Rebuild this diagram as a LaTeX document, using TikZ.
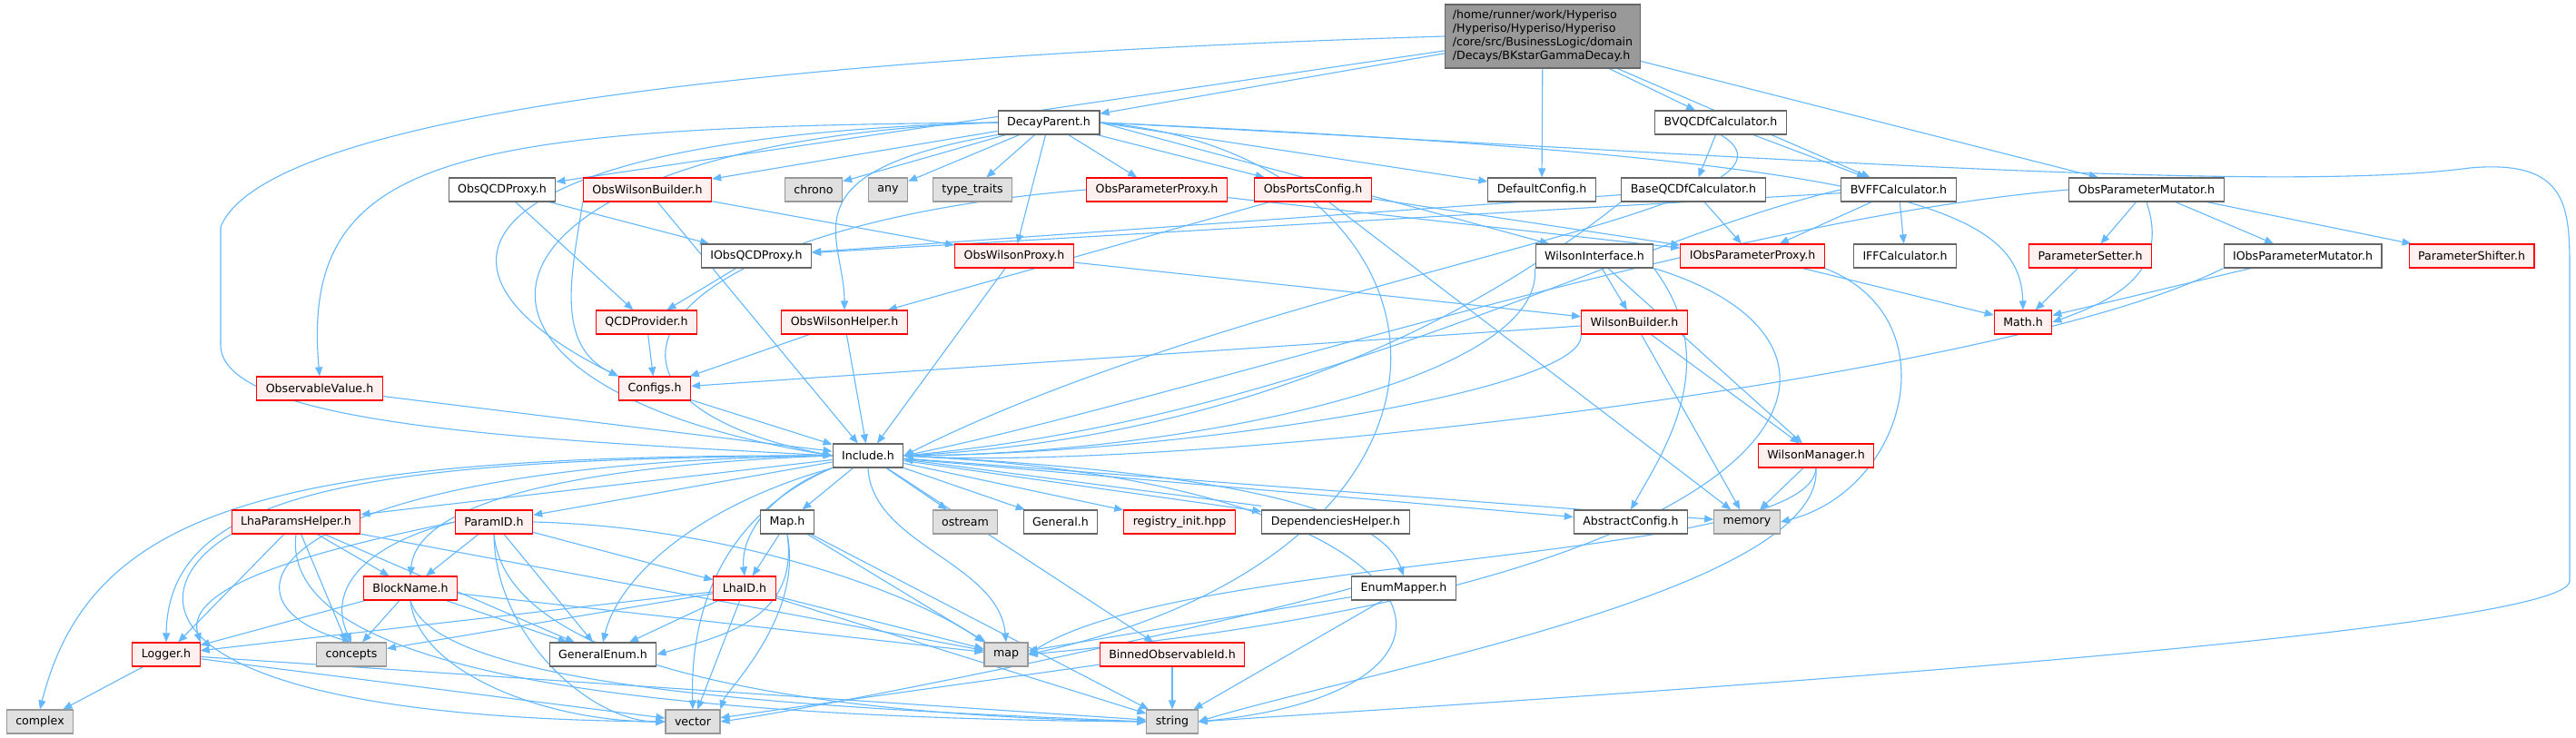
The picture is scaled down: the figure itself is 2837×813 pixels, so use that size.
\documentclass[tikz,border=0pt]{standalone}
\usepackage{fontspec}
\setmainfont{DejaVu Sans}
\usetikzlibrary{arrows.meta, backgrounds}
\definecolor{edgeblue}{HTML}{63B8FF}
\definecolor{boxgray}{HTML}{666666}
\definecolor{sysgray}{HTML}{999999}
\definecolor{sysfill}{HTML}{E0E0E0}
\definecolor{redfill}{HTML}{FFF0F0}
\definecolor{mainfill}{HTML}{999999}

\begin{document}
\begin{tikzpicture}[x=1pt, y=-1pt,
    every node/.style={font=\fontsize{12.6}{15}\selectfont, inner xsep=10pt, inner ysep=0pt, minimum height=26pt, line width=1.1pt},
    hdr/.style={draw=boxgray, fill=white},
    redhdr/.style={draw=red, fill=redfill},
    syshdr/.style={draw=sysgray, fill=sysfill},
    mainhdr/.style={draw=boxgray, fill=mainfill, align=left, inner xsep=8pt, minimum height=70pt},
    dep/.style={draw=edgeblue, line width=1.1pt, -{Triangle[length=10pt,width=8pt]}}]
    \useasboundingbox (0,0) rectangle (2837,813);

    % Top file
    \node[mainhdr] (bkgamma) at (1699,40) {/home/runner/work/Hyperiso\\/Hyperiso/Hyperiso/Hyperiso\\/core/src/BusinessLogic/domain\\/Decays/BKstarGammaDecay.h};

    % Row 1
    \node[hdr] (decay) at (1155,135) {DecayParent.h};
    \node[hdr] (bvqcdf) at (1895,135) {BVQCDfCalculator.h};

    % Row 2
    \node[hdr] (obsqcd) at (553,209) {ObsQCDProxy.h};
    \node[redhdr] (owbuild) at (713,209) {ObsWilsonBuilder.h};
    \node[syshdr] (chrono) at (896,209) {chrono};
    \node[syshdr] (any) at (978,209) {any};
    \node[syshdr] (traits) at (1071,209) {type\_traits};
    \node[redhdr] (opproxy) at (1274,209) {ObsParameterProxy.h};
    \node[redhdr] (ports) at (1446,209) {ObsPortsConfig.h};
    \node[hdr] (defcfg) at (1698,209) {DefaultConfig.h};
    \node[hdr] (baseqcdf) at (1865,209) {BaseQCDfCalculator.h};
    \node[hdr] (bvff) at (2091,209) {BVFFCalculator.h};
    \node[hdr] (opmut) at (2364,209) {ObsParameterMutator.h};

    % Row 3
    \node[hdr] (iobsqcd) at (833,282) {IObsQCDProxy.h};
    \node[redhdr] (owproxy) at (1117,282) {ObsWilsonProxy.h};
    \node[hdr] (wint) at (1756,282) {WilsonInterface.h};
    \node[redhdr] (iopp) at (1930,282) {IObsParameterProxy.h};
    \node[hdr] (iff) at (2098,282) {IFFCalculator.h};
    \node[redhdr] (psetter) at (2302,282) {ParameterSetter.h};
    \node[hdr] (iopmut) at (2536,282) {IObsParameterMutator.h};
    \node[redhdr] (pshift) at (2722,282) {ParameterShifter.h};

    % Row 4
    \node[redhdr] (qcdprov) at (712,355) {QCDProvider.h};
    \node[redhdr] (owhelper) at (930,355) {ObsWilsonHelper.h};
    \node[redhdr] (wbuild) at (1800,355) {WilsonBuilder.h};
    \node[redhdr] (math) at (2228,355) {Math.h};

    % Row 5
    \node[redhdr] (obsval) at (352,428) {ObservableValue.h};
    \node[redhdr] (configs) at (721,428) {Configs.h};

    % Row 6
    \node[hdr] (include) at (956,502) {Include.h};
    \node[redhdr] (wman) at (2000,502) {WilsonManager.h};

    % Row 7
    \node[redhdr] (lhaph) at (326,575) {LhaParamsHelper.h};
    \node[redhdr] (paramid) at (544,575) {ParamID.h};
    \node[hdr] (maph) at (867,575) {Map.h};
    \node[syshdr] (ostream) at (1063,575) {ostream};
    \node[hdr] (general) at (1168,575) {General.h};
    \node[redhdr] (registry) at (1299,575) {registry\_init.hpp};
    \node[hdr] (dephelp) at (1471,575) {DependenciesHelper.h};
    \node[hdr] (abscfg) at (1796,575) {AbstractConfig.h};
    \node[syshdr] (memory) at (1924,575) {memory};

    % Row 8
    \node[redhdr] (blockname) at (452,648) {BlockName.h};
    \node[redhdr] (lhaid) at (820,648) {LhaID.h};
    \node[hdr] (enummap) at (1546,648) {EnumMapper.h};

    % Row 9
    \node[redhdr] (logger) at (183,721) {Logger.h};
    \node[syshdr] (concepts) at (387,721) {concepts};
    \node[hdr] (genenum) at (664,721) {GeneralEnum.h};
    \node[syshdr] (map) at (1108,721) {map};
    \node[redhdr] (binned) at (1291,721) {BinnedObservableId.h};

    % Row 10
    \node[syshdr] (complex) at (44,795) {complex};
    \node[syshdr] (vector) at (763,795) {vector};
    \node[syshdr] (string) at (1291,795) {string};

    \begin{scope}[on background layer]
    \fill[white] (0,0) rectangle (2837,813);

    % Top file includes
    \draw[dep] (bkgamma.west) .. controls (1000,58) and (300,110) .. (243,250) -- (243,380) .. controls (243,470) and (600,485) .. (include.west);
    \draw[dep] (bkgamma) -- (decay);
    \draw[dep] (bkgamma) -- (obsqcd);
    \draw[dep] (bkgamma) -- (defcfg);
    \draw[dep] (bkgamma) -- (bvqcdf);
    \draw[dep] (bkgamma) -- (bvff);
    \draw[dep] (bkgamma) -- (opmut);

    % DecayParent.h
    \draw[dep] (decay.west) .. controls (500,140) and (330,170) .. (obsval.north);
    \draw[dep] (decay.west) .. controls (520,150) and (430,290) .. (configs.north west);
    \draw[dep] (decay.west) .. controls (500,155) and (420,420) .. (include.west);
    \draw[dep] (decay) -- (owbuild);
    \draw[dep] (decay) -- (chrono);
    \draw[dep] (decay) -- (any);
    \draw[dep] (decay) -- (traits);
    \draw[dep] (decay) -- (owproxy);
    \draw[dep] (decay) -- (opproxy);
    \draw[dep] (decay) -- (ports);
    \draw[dep] (decay.east) -- (defcfg);
    \draw[dep] (decay.east) -- (wint);
    \draw[dep] (decay.south west) .. controls (860,190) and (930,260) .. (owhelper.north);
    \draw[dep] (decay.east) .. controls (2100,175) and (2225,230) .. (math.north);
    \draw[dep] (decay.east) .. controls (1620,170) and (1680,600) .. (map.east);
    \draw[dep] (decay.east) .. controls (1900,170) and (2500,215) .. (2720,185) .. controls (2830,175) and (2830,230) .. (2830,300) -- (2830,640) .. controls (2830,700) and (1700,770) .. (string.east);

    % Second row headers
    \draw[dep] (obsqcd) -- (iobsqcd);
    \draw[dep] (obsqcd) -- (qcdprov);
    \draw[dep] (iobsqcd) -- (qcdprov);
    \draw[dep] (qcdprov) -- (configs);
    \draw[dep] (owbuild) -- (owproxy);
    \draw[dep] (owbuild) -- (include);
    \draw[dep] (owbuild.south west) .. controls (630,300) and (610,380) .. (configs.north west);
    \draw[dep] (opproxy) -- (iopp);
    \draw[dep] (opproxy.west) .. controls (700,250) and (600,440) .. (include.west);
    \draw[dep] (ports) -- (owhelper);
    \draw[dep] (ports) -- (iopp);
    \draw[dep] (ports) -- (memory);
    \draw[dep] (owproxy) -- (include);
    \draw[dep] (owproxy) -- (wbuild);
    \draw[dep] (owhelper) -- (configs);
    \draw[dep] (owhelper) -- (include);
    \draw[dep] (configs) -- (include);
    \draw[dep] (obsval) -- (include);

    % Calculators
    \draw[dep] (bvqcdf) -- (baseqcdf);
    \draw[dep] (bvqcdf) -- (bvff);
    \draw[dep] (bvqcdf.south) .. controls (2030,230) and (1400,300) .. (include.east);
    \draw[dep] (baseqcdf) -- (iopp);
    \draw[dep] (baseqcdf) -- (iobsqcd);
    \draw[dep] (baseqcdf.south west) .. controls (1650,330) and (1400,480) .. (include.east);
    \draw[dep] (bvff) -- (iopp);
    \draw[dep] (bvff) -- (iff);
    \draw[dep] (bvff) -- (iobsqcd);
    \draw[dep] (bvff.west) .. controls (1800,260) and (1450,460) .. (include.east);

    % Parameter mutator
    \draw[dep] (opmut) -- (psetter);
    \draw[dep] (opmut) -- (iopmut);
    \draw[dep] (opmut) -- (pshift);
    \draw[dep] (opmut.south) .. controls (2390,300) and (2330,330) .. (math.east);
    \draw[dep] (opmut.west) .. controls (1900,240) and (1300,440) .. (include.east);
    \draw[dep] (psetter) -- (math);
    \draw[dep] (iopmut) -- (math);
    \draw[dep] (iopmut.south west) .. controls (2200,420) and (1300,520) .. (include.east);
    \draw[dep] (iopp) -- (math);
    \draw[dep] (iopp.south east) .. controls (2150,350) and (2100,540) .. (memory.east);

    % Wilson headers
    \draw[dep] (wint) -- (wbuild);
    \draw[dep] (wint.south west) .. controls (1700,420) and (1300,500) .. (include.east);
    \draw[dep] (wint) -- (wman);
    \draw[dep] (wint.south east) .. controls (1900,400) and (1830,500) .. (abscfg.north);
    \draw[dep] (wint.south east) .. controls (2100,380) and (2000,640) .. (map.east);
    \draw[dep] (wbuild) -- (configs);
    \draw[dep] (wbuild.south west) .. controls (1750,430) and (1300,500) .. (include.east);
    \draw[dep] (wbuild) -- (wman);
    \draw[dep] (wbuild) -- (memory);
    \draw[dep] (wman) -- (memory);
    \draw[dep] (wman.south) .. controls (1995,620) and (1300,610) .. (map.east);
    \draw[dep] (wman.south) .. controls (2010,650) and (1500,740) .. (string.east);

    % Include.h
    \draw[dep] (include) -- (lhaph);
    \draw[dep] (include) -- (paramid);
    \draw[dep] (include.west) .. controls (700,510) and (460,540) .. (blockname.north);
    \draw[dep] (include.south west) .. controls (850,540) and (815,590) .. (lhaid.north);
    \draw[dep] (include.west) .. controls (400,505) and (185,540) .. (logger.north);
    \draw[dep] (include.west) .. controls (300,500) and (100,560) .. (complex.north);
    \draw[dep] (include.west) .. controls (300,510) and (220,660) .. (concepts.north);
    \draw[dep] (include.south west) .. controls (760,560) and (680,640) .. (genenum.north);
    \draw[dep] (include.south west) .. controls (790,570) and (760,680) .. (vector.north);
    \draw[dep] (include) -- (maph);
    \draw[dep] (include) -- (ostream);
    \draw[dep] (include) -- (general);
    \draw[dep] (include) -- (registry);
    \draw[dep] (include) -- (dephelp);
    \draw[dep] ([yshift=4pt]dephelp.north west) -- ([yshift=-4pt]include.east);
    \draw[dep] (include) -- (abscfg);
    \draw[dep] (include) -- (memory);
    \draw[dep] (include.south) .. controls (960,600) and (1100,620) .. (map.north);
    \draw[dep] (include) -- (binned);
    \draw[dep] (include.east) .. controls (1600,530) and (1680,760) .. (string.east);
    \draw[dep] (include.east) .. controls (1350,520) and (1520,560) .. (enummap.north);

    % Parameter headers
    \draw[dep] (lhaph) -- (logger);
    \draw[dep] (lhaph) -- (concepts);
    \draw[dep] (lhaph) -- (blockname);
    \draw[dep] (lhaph) -- (genenum);
    \draw[dep] (lhaph) -- (map);
    \draw[dep] (lhaph.south west) .. controls (150,650) and (150,790) .. (vector.west);
    \draw[dep] (lhaph.south) .. controls (310,720) and (600,790) .. (string.west);
    \draw[dep] (paramid) -- (blockname);
    \draw[dep] (paramid) -- (lhaid);
    \draw[dep] (paramid) -- (genenum);
    \draw[dep] (paramid.west) .. controls (380,600) and (200,640) .. (logger.north east);
    \draw[dep] (paramid.west) .. controls (400,600) and (360,650) .. (concepts.north);
    \draw[dep] (paramid.south) .. controls (545,700) and (650,795) .. (vector.west);
    \draw[dep] (paramid.east) .. controls (800,580) and (1000,650) .. (map.north west);
    \draw[dep] (paramid.south) .. controls (560,760) and (1000,790) .. (string.west);
    \draw[dep] (blockname) -- (logger);
    \draw[dep] (blockname) -- (concepts);
    \draw[dep] (blockname) -- (genenum);
    \draw[dep] (blockname) -- (map);
    \draw[dep] (blockname.south) .. controls (460,740) and (600,795) .. (vector.west);
    \draw[dep] (blockname.south) .. controls (480,760) and (900,780) .. (string.west);
    \draw[dep] (lhaid) -- (logger);
    \draw[dep] (lhaid) -- (concepts);
    \draw[dep] (lhaid) -- (genenum);
    \draw[dep] (lhaid) -- (vector);
    \draw[dep] (lhaid) -- (map);
    \draw[dep] (lhaid) -- (string);
    \draw[dep] (maph) -- (lhaid);
    \draw[dep] (maph.south) .. controls (880,680) and (800,700) .. (genenum.east);
    \draw[dep] (maph.south) .. controls (885,680) and (800,760) .. (vector.north east);
    \draw[dep] (maph) -- (map);
    \draw[dep] (maph) -- (string);

    % Bottom rows
    \draw[dep] (logger) -- (complex);
    \draw[dep] (logger) -- (vector);
    \draw[dep] (logger) -- (string);
    \draw[dep] (enummap) -- (map);
    \draw[dep] (enummap) -- (string);
    \draw[dep] (enummap.west) .. controls (1300,700) and (900,780) .. (vector.east);
    \draw[dep] (binned) -- (vector);
    \draw[dep] (binned) -- (string);
    \end{scope}
\end{tikzpicture}
\end{document}
